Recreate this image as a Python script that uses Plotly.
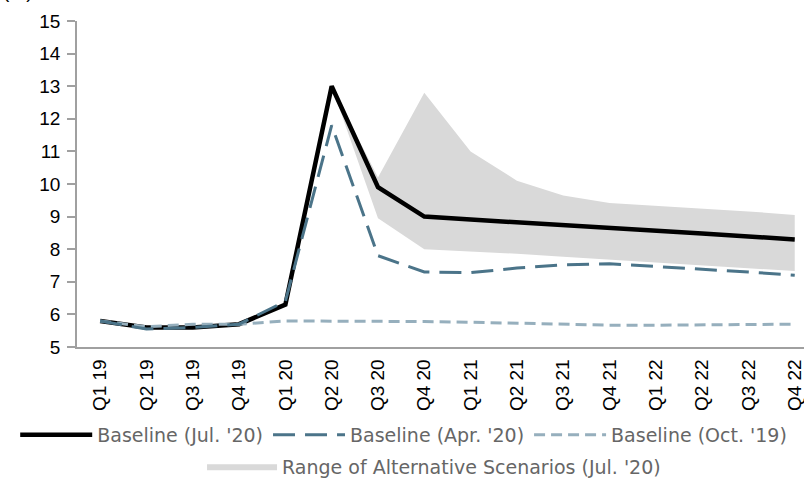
import plotly.graph_objects as go

categories = ["Q1 19", "Q2 19", "Q3 19", "Q4 19", "Q1 20", "Q2 20", "Q3 20", "Q4 20",
              "Q1 21", "Q2 21", "Q3 21", "Q4 21", "Q1 22", "Q2 22", "Q3 22", "Q4 22"]
baseline_jul20 = [5.8, 5.6, 5.6, 5.7, 6.3, 13.0, 9.9, 9.0, 8.91, 8.83, 8.74, 8.65, 8.56, 8.48, 8.39, 8.3]
baseline_apr20 = [5.8, 5.55, 5.6, 5.7, 6.4, 11.8, 7.8, 7.3, 7.28, 7.42, 7.52, 7.55, 7.47, 7.39, 7.3, 7.2]
baseline_oct19 = [5.8, 5.62, 5.7, 5.7, 5.8, 5.8, 5.8, 5.78, 5.76, 5.73, 5.7, 5.67, 5.67, 5.68, 5.69, 5.7]
range_categories = categories[5:]
range_upper = [13.0, 10.2, 12.8, 11.0, 10.1, 9.65, 9.42, 9.34, 9.26, 9.16, 9.05]
range_lower = [13.0, 8.95, 8.0, 7.94, 7.86, 7.77, 7.68, 7.6, 7.52, 7.43, 7.33]
y_ticks = list(range(5, 16))

fig = go.Figure()
fig.add_trace(go.Scatter(x=range_categories, y=range_lower, mode="lines",
                         line=dict(width=0, color="#d9d9d9"), showlegend=False,
                         hoverinfo="skip"))
fig.add_trace(go.Scatter(x=range_categories, y=range_upper, mode="lines", fill="tonexty",
                         fillcolor="#d9d9d9", line=dict(width=0, color="#d9d9d9"),
                         name="Range of Alternative Scenarios (Jul. '20)", legend="legend2"))
fig.add_trace(go.Scatter(x=categories, y=baseline_jul20, mode="lines",
                         line=dict(color="#000000", width=4.5),
                         name="Baseline (Jul. '20)", legendrank=1))
fig.add_trace(go.Scatter(x=categories, y=baseline_oct19, mode="lines",
                         line=dict(color="#96afbd", width=3, dash="11px,6px"),
                         name="Baseline (Oct. '19)", legendrank=3))
fig.add_trace(go.Scatter(x=categories, y=baseline_apr20, mode="lines",
                         line=dict(color="#4b7489", width=3, dash="22px,10px"),
                         name="Baseline (Apr. '20)", legendrank=2))

legend_font = dict(family="DejaVu Sans", size=19, color="#666666")
tick_font = dict(family="Arial", size=19, color="#000000")
fig.update_layout(
    width=804, height=479,
    margin=dict(l=77, r=0, t=21, b=132, autoexpand=False),
    plot_bgcolor="white", paper_bgcolor="white",
    font=dict(family="Arial", size=19, color="#000000"),
    xaxis=dict(type="category", categoryorder="array", categoryarray=categories,
               range=[-0.5, 15.2], showgrid=False, zeroline=False, automargin=False,
               showline=True, linecolor="#a0a0a0", linewidth=1.5,
               ticks="", tickangle=-90, tickfont=tick_font, ticklabelstandoff=3),
    yaxis=dict(range=[5, 15], tickvals=y_ticks, showgrid=False, zeroline=False,
               automargin=False,
               showline=True, linecolor="#a0a0a0", linewidth=1.5,
               ticks="outside", ticklen=8, tickcolor="#a0a0a0", tickwidth=1.5,
               tickfont=tick_font, ticklabelstandoff=3),
    legend=dict(orientation="h", x=-0.085, xanchor="left", y=-0.27, yanchor="middle",
                font=legend_font, itemwidth=72, traceorder="normal",
                bgcolor="rgba(0,0,0,0)"),
    legend2=dict(orientation="h", x=0.172, xanchor="left", y=-0.366, yanchor="middle",
                 font=legend_font, itemwidth=70, bgcolor="rgba(0,0,0,0)"),
    annotations=[dict(text="(%)", xref="paper", yref="paper", x=-0.105, y=1.052,
                      xanchor="left", yanchor="bottom", showarrow=False,
                      font=dict(family="Arial", size=19, color="#000000"))],
)

fig.write_html("out.html", config={"displayModeBar": False},
               post_script="document.body.style.margin='0';")
